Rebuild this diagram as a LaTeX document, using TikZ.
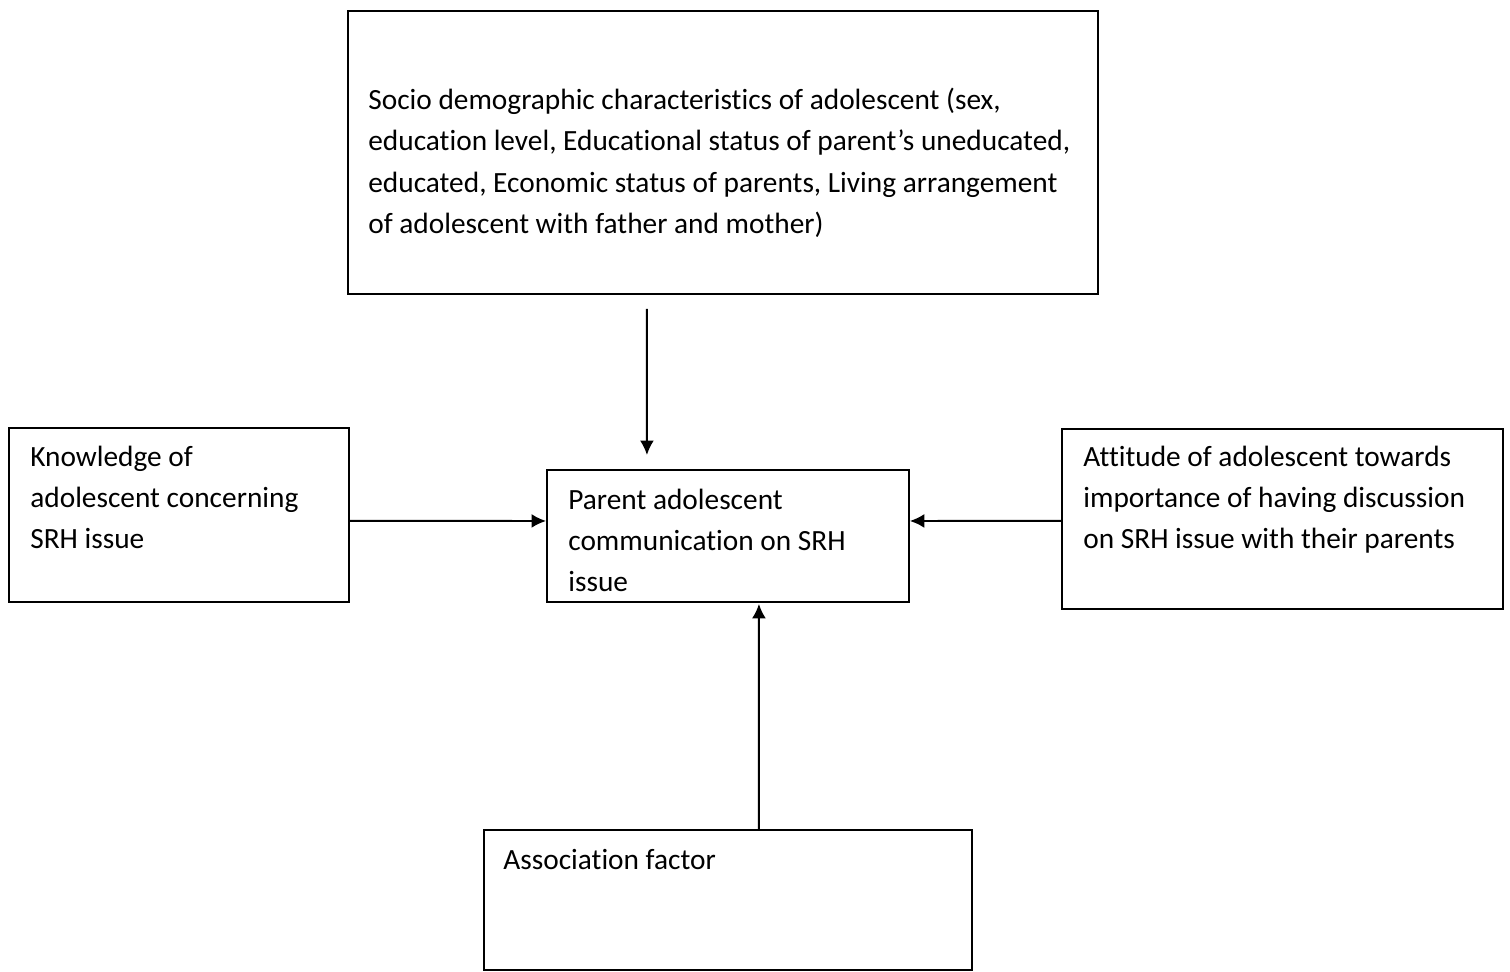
\documentclass[tikz,border=0pt]{standalone}
\usepackage{fontspec}
\setmainfont{Carlito}[Ligatures=NoCommon]
\usetikzlibrary{positioning,arrows.meta}
\tikzset{
	box/.style={draw,line width=1.1pt,rectangle,inner sep=0pt,anchor=north west},
	txt/.style={anchor=north west,inner sep=0pt,align=left,font=\fontsize{16.7}{23.4}\selectfont},
	arr/.style={line width=1.1pt,-{Latex[length=2.9mm,width=2.8mm]}}
}
\begin{document}
\begin{tikzpicture}[x=0.02cm,y=-0.02cm]
		\useasboundingbox (0,0) rectangle (1510,971);
		\node[box,minimum width=15cm,minimum height=5.66cm] (socio) at (347,10) {};
		\node[box,minimum width=6.8cm,minimum height=3.48cm] (know) at (8,427) {};
		\node[box,minimum width=7.24cm,minimum height=2.64cm] (parent) at (546,469) {};
		\node[box,minimum width=8.82cm,minimum height=3.6cm] (attit) at (1061,428) {};
		\node[box,minimum width=9.76cm,minimum height=2.8cm] (assoc) at (483,829) {};
		\node[txt,below right=1.56cm and 0.42cm of socio.north west] (sociotxt) {Socio demographic characteristics of adolescent (sex,\\education level, Educational status of parent’s uneducated,\\educated, Economic status of parents, Living arrangement\\of adolescent with father and mother)};
		\node[txt,below right=0.37cm and 0.44cm of know.north west] (knowtxt) {Knowledge of\\adolescent concerning\\SRH issue};
		\node[txt,below right=0.39cm and 0.44cm of parent.north west] (parenttxt) {Parent adolescent\\communication on SRH\\issue};
		\node[txt,below right=0.35cm and 0.44cm of attit.north west] (attittxt) {Attitude of adolescent towards\\importance of having discussion\\on SRH issue with their parents};
		\node[txt,below right=0.39cm and 0.4cm of assoc.north west] (assoctxt) {Association factor};
		\draw[arr] ([shift={(-76,14)}]socio.south) -- ([shift={(-81,-14)}]parent.north);
		\draw[arr] ([shift={(0,6)}]know.east) -- ([shift={(0,-15)}]parent.west);
		\draw[arr] ([shift={(0,2)}]attit.west) -- ([shift={(0,-15)}]parent.east);
		\draw[arr] ([shift={(31,0)}]assoc.north) -- ([shift={(31,1)}]parent.south);
	\end{tikzpicture}
\end{document}
